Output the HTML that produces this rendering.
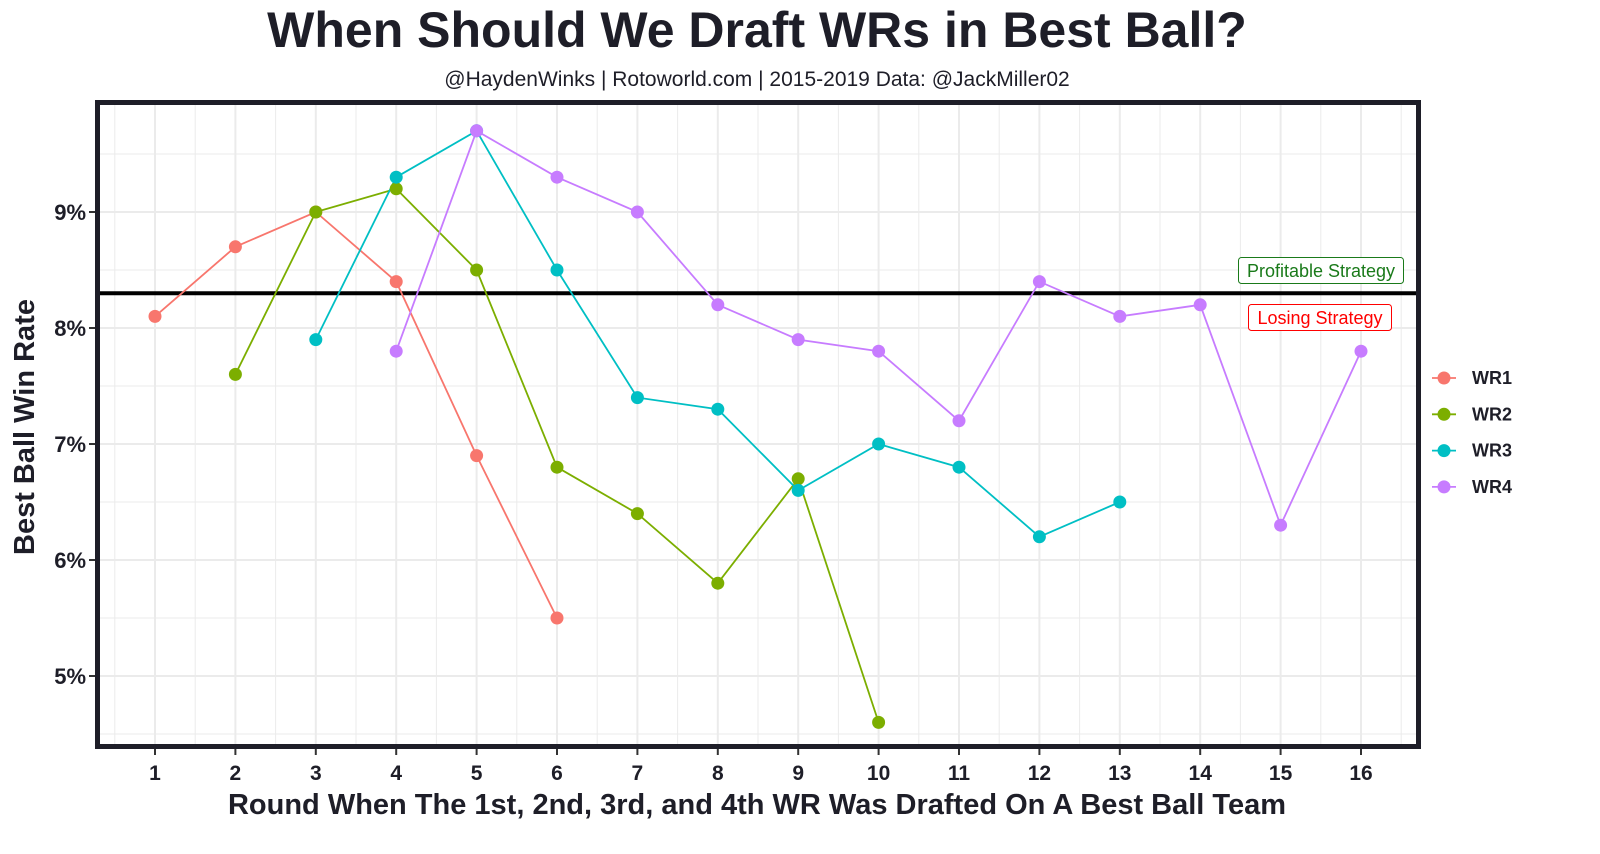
<!DOCTYPE html>
<html><head><meta charset="utf-8"><style>
body{margin:0;background:#fff;}
svg text{font-family:"Liberation Sans",Arial,sans-serif;}
</style></head><body>
<svg width="1600" height="849" viewBox="0 0 1600 849" xmlns="http://www.w3.org/2000/svg">
<rect width="1600" height="849" fill="#fff"/>
<text x="757" y="47" text-anchor="middle" font-size="50" font-weight="bold" fill="#1e1e28">When Should We Draft WRs in Best Ball?</text>
<text x="757" y="86" text-anchor="middle" font-size="21" fill="#1e1e28">@HaydenWinks | Rotoworld.com | 2015-2019 Data: @JackMiller02</text>
<g id="grid"></g>
<g id="plot"></g>
<rect x="97.5" y="102.5" width="1321" height="644" fill="none" stroke="#1e1e28" stroke-width="5"/>
<text transform="translate(34,427) rotate(-90)" text-anchor="middle" font-size="29" font-weight="bold" fill="#1e1e28">Best Ball Win Rate</text>
<text x="757" y="814" text-anchor="middle" font-size="29" font-weight="bold" fill="#1e1e28">Round When The 1st, 2nd, 3rd, and 4th WR Was Drafted On A Best Ball Team</text>
<g id="legend"></g>
</svg>
<script>
const ns="http://www.w3.org/2000/svg";
function el(p,t,a,txt){const e=document.createElementNS(ns,t);for(const k in a)e.setAttribute(k,a[k]);if(txt!==undefined)e.textContent=txt;p.appendChild(e);return e;}
const X=n=>155+(n-1)*80.4, Y=v=>212+(9-v)*116;
const g=document.getElementById('grid'),p=document.getElementById('plot'),lg=document.getElementById('legend');
for(let n=0.5;n<=16.5;n+=0.5){const x=X(n);if(x<100||x>1416)continue;el(g,'line',{x1:x,x2:x,y1:104,y2:745,stroke:'#ebebeb','stroke-width':Number.isInteger(n)?2:1});}
for(let v=4.5;v<=10;v+=0.5){const y=Y(v);if(y<104||y>745)continue;el(g,'line',{x1:100,x2:1416,y1:y,y2:y,stroke:'#ebebeb','stroke-width':Number.isInteger(v)?2:1});}
for(let n=1;n<=16;n++){el(g,'line',{x1:X(n),x2:X(n),y1:749,y2:755,stroke:'#333','stroke-width':2});el(g,'text',{x:X(n),y:780,'text-anchor':'middle','font-size':21,'font-weight':'bold',fill:'#1e1e28'},n);}
for(let v=5;v<=9;v++){el(g,'line',{x1:89,x2:95,y1:Y(v),y2:Y(v),stroke:'#333','stroke-width':2});el(g,'text',{x:86,y:Y(v)+8,'text-anchor':'end','font-size':22,'font-weight':'bold',fill:'#1e1e28'},v+'%');}
el(p,'line',{x1:100,x2:1416,y1:Y(8.3),y2:Y(8.3),stroke:'#000','stroke-width':4});
const S=[['WR1','#F8766D',1,[8.1,8.7,9.0,8.4,6.9,5.5]],['WR2','#7CAE00',2,[7.6,9.0,9.2,8.5,6.8,6.4,5.8,6.7,4.6]],['WR3','#00BFC4',3,[7.9,9.3,9.7,8.5,7.4,7.3,6.6,7.0,6.8,6.2,6.5]],['WR4','#C77CFF',4,[7.8,9.7,9.3,9.0,8.2,7.9,7.8,7.2,8.4,8.1,8.2,6.3,7.8]]];
S.forEach(([n,c,s,d])=>{el(p,'polyline',{points:d.map((v,i)=>X(s+i)+','+Y(v)).join(' '),fill:'none',stroke:c,'stroke-width':1.8});});
S.forEach(([n,c,s,d])=>{d.forEach((v,i)=>el(p,'circle',{cx:X(s+i),cy:Y(v),r:6.5,fill:c}));});
el(p,'rect',{x:1238.5,y:257.5,width:165,height:26,rx:3,fill:'#fff',stroke:'#1a7a1a','stroke-width':1});
el(p,'text',{x:1321,y:277,'text-anchor':'middle','font-size':18,fill:'#1a7a1a'},'Profitable Strategy');
el(p,'rect',{x:1248.5,y:304.5,width:143,height:26,rx:3,fill:'#fff',stroke:'#ff0000','stroke-width':1});
el(p,'text',{x:1320,y:324,'text-anchor':'middle','font-size':18,fill:'#ff0000'},'Losing Strategy');
S.forEach(([n,c],i)=>{const y=378+i*36.3;el(lg,'line',{x1:1432,x2:1456,y1:y,y2:y,stroke:c,'stroke-width':1.8});el(lg,'circle',{cx:1444,cy:y,r:6.5,fill:c});el(lg,'text',{x:1472,y:y+6,'font-size':18,'font-weight':'bold',fill:'#1e1e28'},n);});
</script>
</body></html>
